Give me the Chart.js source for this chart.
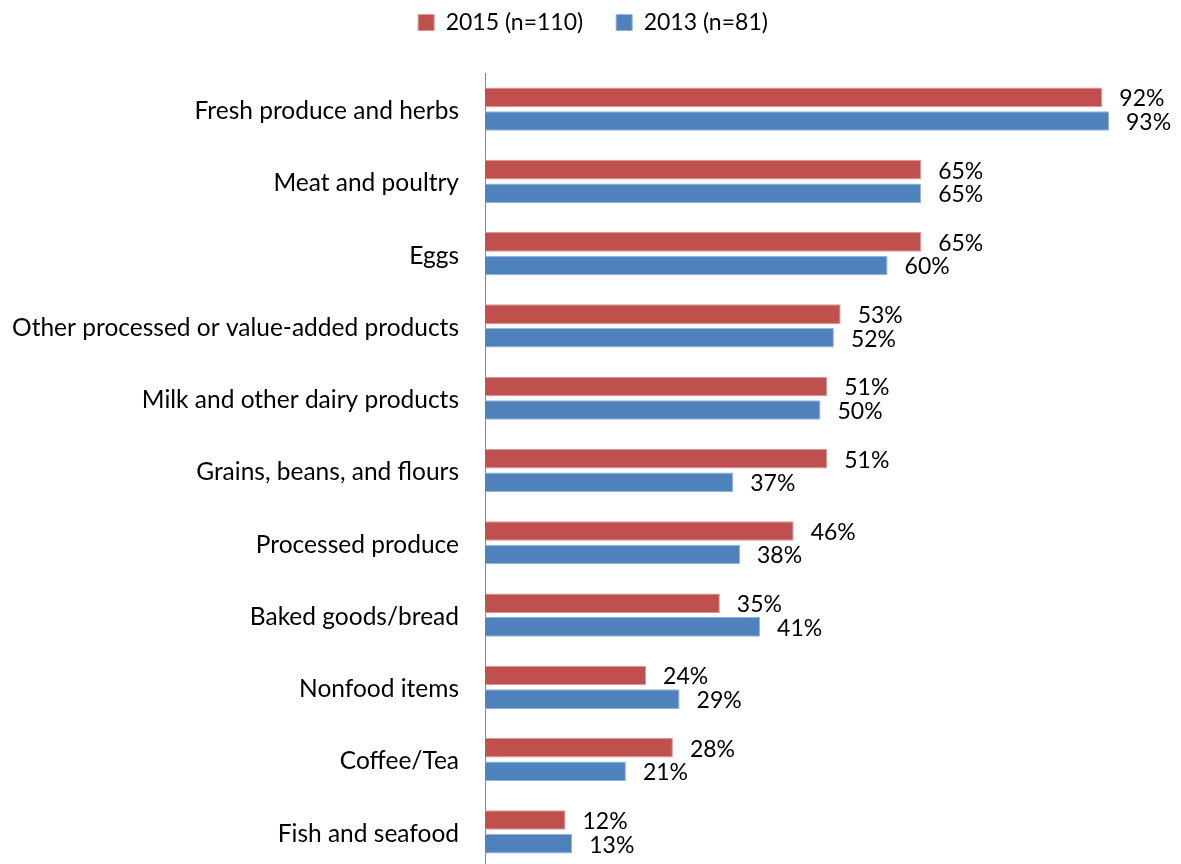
<!DOCTYPE html>
<html>
<head>
<meta charset="utf-8">
<script src="https://cdn.jsdelivr.net/npm/chart.js@4"></script>
<style>
  html, body { margin: 0; padding: 0; background: #fff; overflow: hidden; }
  #wrap { width: 1181px; height: 864px; overflow: hidden; }
</style>
</head>
<body>
<div id="wrap"><canvas id="chart" width="1181" height="868"></canvas></div>
<script>
const categories = [
    'Fresh produce and herbs',
    'Meat and poultry',
    'Eggs',
    'Other processed or value-added products',
    'Milk and other dairy products',
    'Grains, beans, and flours',
    'Processed produce',
    'Baked goods/bread',
    'Nonfood items',
    'Coffee/Tea',
    'Fish and seafood'
];
const values2015 = [92, 65, 65, 53, 51, 51, 46, 35, 24, 28, 12];
const values2013 = [93, 65, 60, 52, 50, 37, 38, 41, 29, 21, 13];
const seriesNames = ['2015 (n=110)', '2013 (n=81)'];

const FONT = 'Lato';

// percent labels just past the end of each bar
const barLabels = {
    id: 'barLabels',
    afterDatasetsDraw(chart) {
        const ctx = chart.ctx;
        ctx.save();
        ctx.font = '23px ' + FONT;
        ctx.fillStyle = '#000';
        ctx.textAlign = 'left';
        ctx.textBaseline = 'middle';
        chart.data.datasets.forEach((ds, i) => {
            chart.getDatasetMeta(i).data.forEach((bar, j) => {
                ctx.fillText(ds.data[j] + '%', bar.x + 17, bar.y + 1.5);
            });
        });
        ctx.restore();
    }
};

// give the legend a taller box so the bars start lower down,
// and nudge it a little to the right
const legendSpacing = {
    id: 'legendSpacing',
    beforeLayout(chart) {
        const legend = chart.legend;
        if (legend && !legend._tall) {
            const fit = legend.fit;
            legend.fit = function () {
                fit.call(this);
                this.height = 95;
            };
            legend._tall = true;
        }
    },
    afterLayout(chart) {
        if (chart.legend) {
            chart.legend.left += 10;
            chart.legend.right += 10;
        }
    }
};

Chart.defaults.font.family = FONT;
Chart.defaults.color = '#000';

new Chart(document.getElementById('chart'), {
    type: 'bar',
    data: {
        labels: categories,
        datasets: [
            {
                label: seriesNames[0],
                data: values2015,
                backgroundColor: '#C0504D',
                borderColor: '#D99694',
                borderWidth: 1
            },
            {
                label: seriesNames[1],
                data: values2013,
                backgroundColor: '#4F81BD',
                borderColor: '#95B3D7',
                borderWidth: 1
            }
        ]
    },
    options: {
        indexAxis: 'y',
        responsive: false,
        animation: false,
        categoryPercentage: 0.653,
        barPercentage: 0.83,
        layout: { padding: { left: 10, right: 25, top: -22, bottom: 0 } },
        plugins: {
            legend: {
                position: 'top',
                labels: {
                    font: { size: 23 },
                    boxWidth: 16,
                    boxHeight: 16,
                    padding: 33,
                    color: '#000'
                }
            },
            tooltip: { enabled: false }
        },
        scales: {
            x: {
                display: false,
                min: 0,
                max: 100
            },
            y: {
                grid: { display: false, drawTicks: false },
                border: { display: true, color: '#868686', width: 1 },
                ticks: { font: { size: 24.5 }, padding: 26, labelOffset: 2, color: '#000' },
                afterFit(scale) {
                    // fixed label column, no extra room under the last row
                    scale.width = 475;
                    scale.paddingBottom = 0;
                }
            }
        }
    },
    plugins: [barLabels, legendSpacing]
});
</script>
</body>
</html>
